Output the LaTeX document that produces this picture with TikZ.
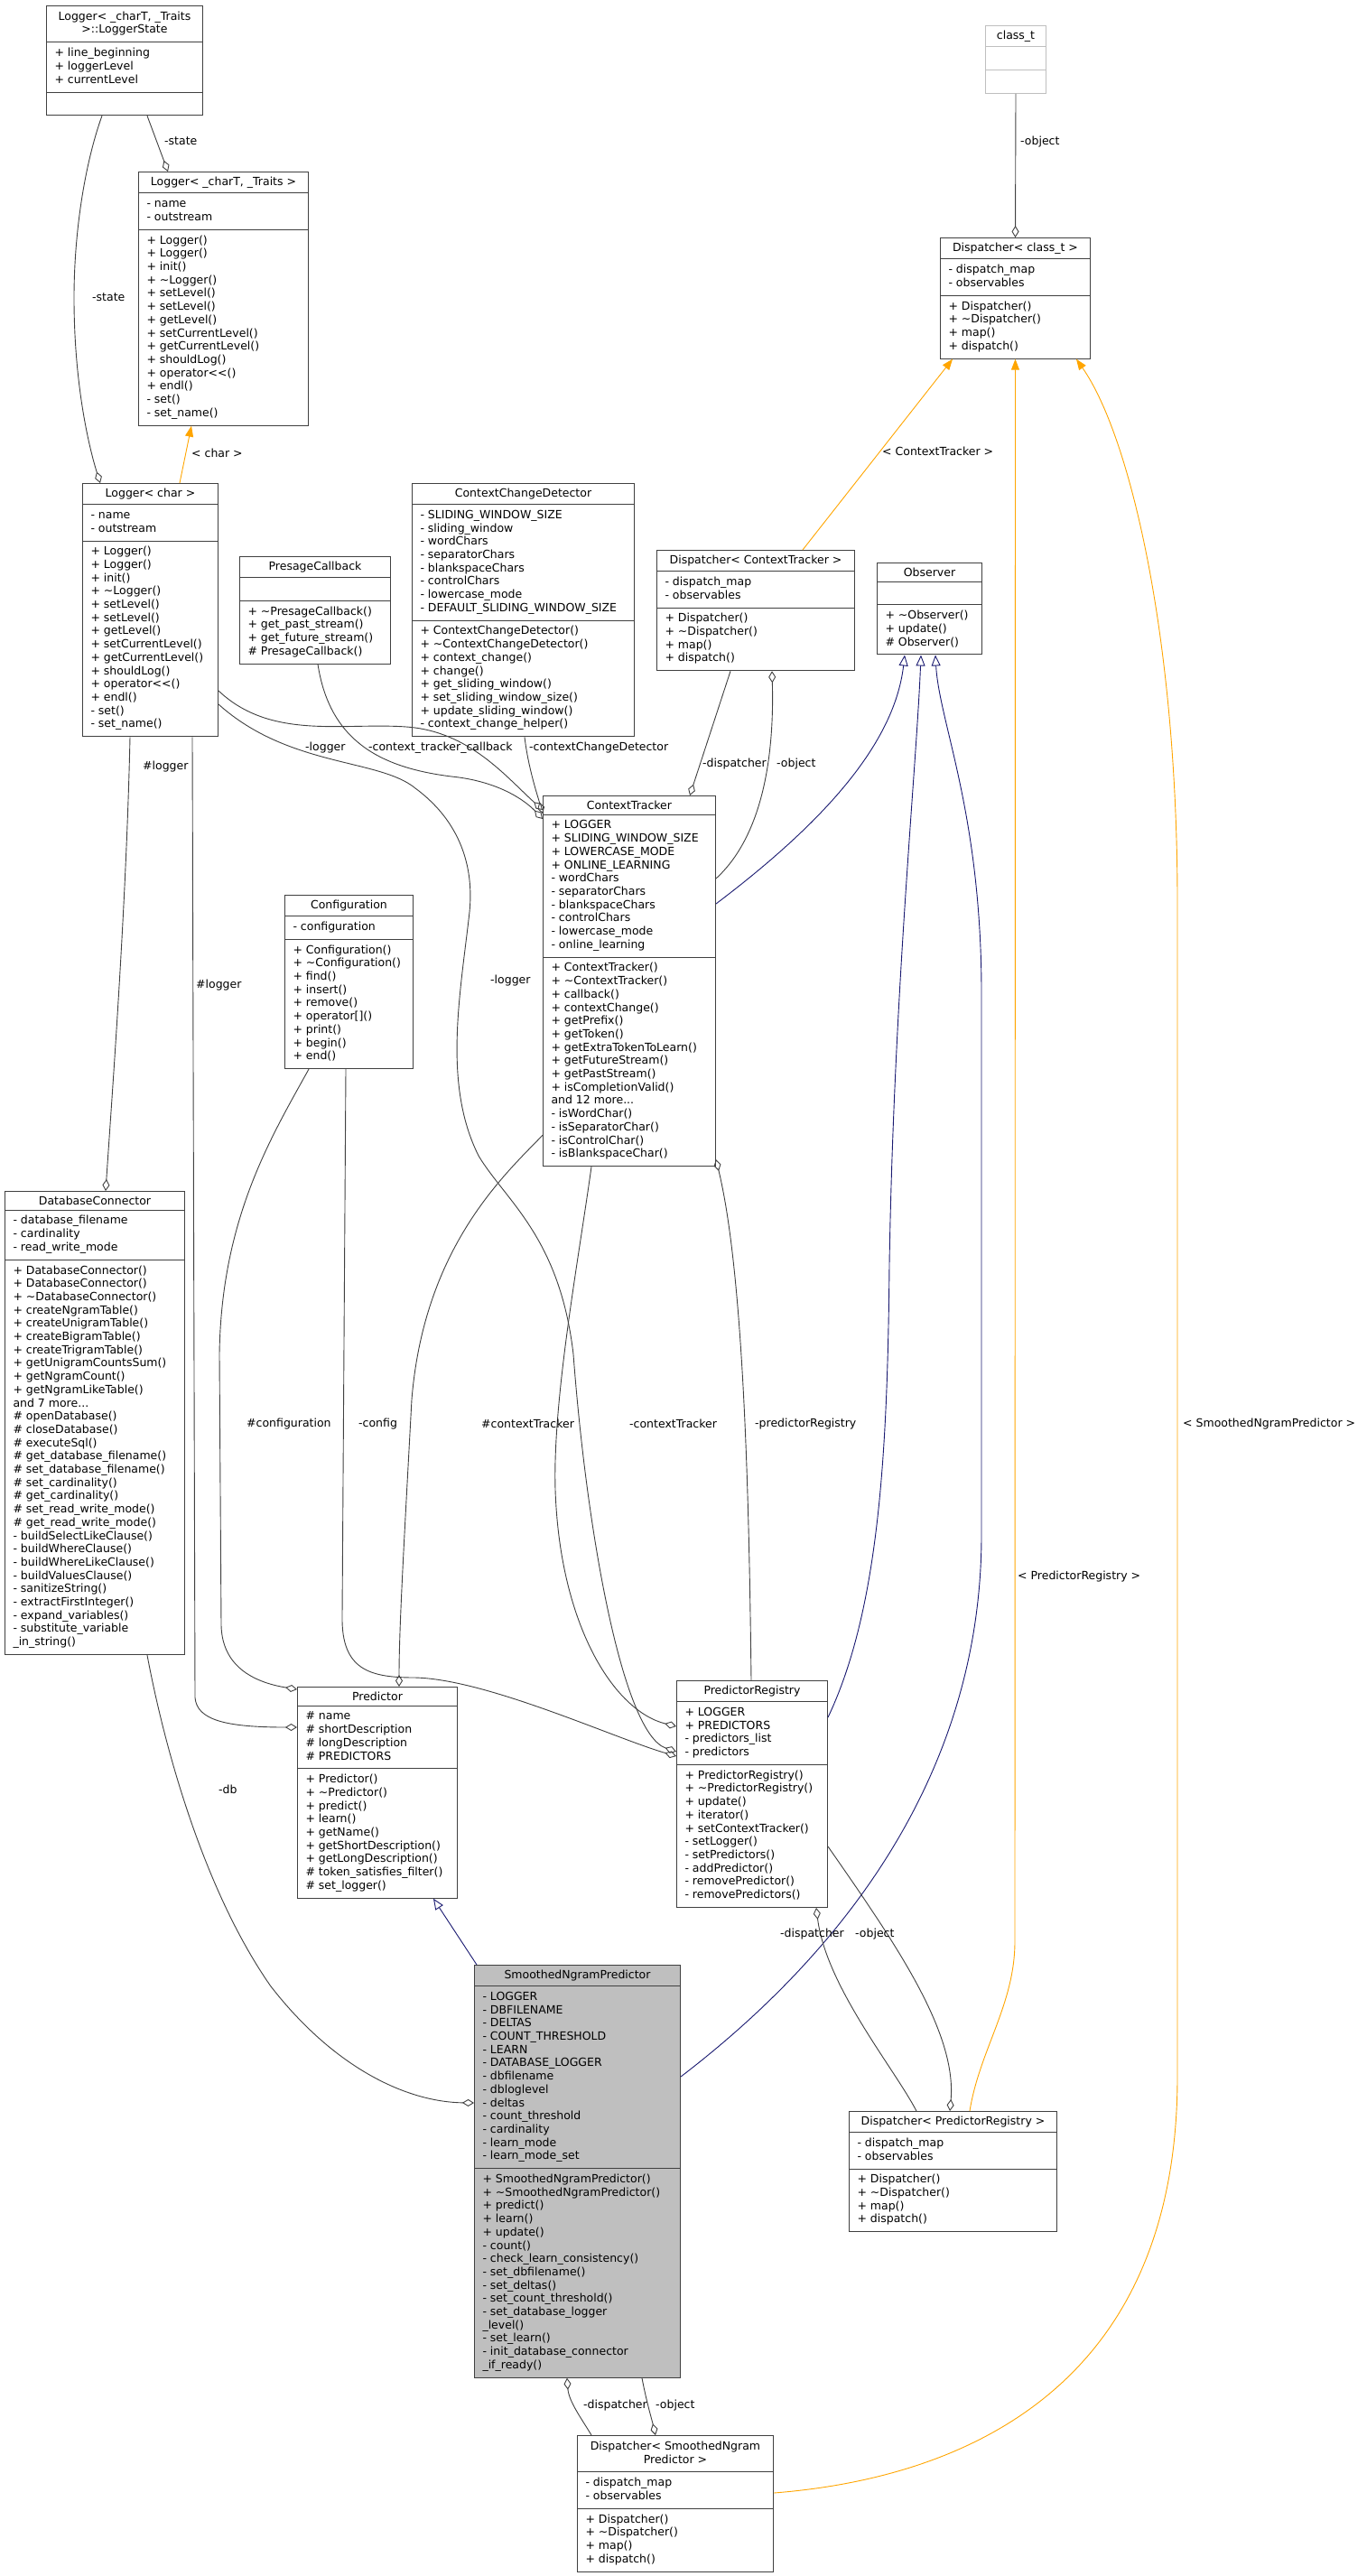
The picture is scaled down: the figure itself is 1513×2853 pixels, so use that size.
\documentclass[tikz,border=0pt]{standalone}
\usepackage{fontspec}
\setmainfont{DejaVu Sans}
\usetikzlibrary{shapes.multipart,arrows.meta}

\definecolor{edgegray}{HTML}{404040}
\definecolor{inhnavy}{HTML}{191970}
\definecolor{tplorange}{HTML}{FFA500}
\definecolor{boxgray}{HTML}{BFBFBF}

\newcommand{\cfont}{\fontsize{12.5}{14.7}\selectfont}
\newcommand{\mlines}[1]{\begin{tabular}{@{}l@{}}#1\end{tabular}}
\newcommand{\mcent}[1]{\begin{tabular}{@{}c@{}}#1\end{tabular}}
\newcommand{\tild}{\textasciitilde}

\tikzset{
  umlclass/.style={rectangle split, rectangle split parts=3,
    rectangle split part align={center,left,left},
    rectangle split empty part height=10.3pt,
    rectangle split empty part depth=4.4pt,
    draw=edgegray, line width=1pt, fill=white, anchor=north west,
    inner xsep=9pt, inner ysep=5pt, font=\cfont},
  lbl/.style={font=\cfont, inner sep=0pt, anchor=west},
  agg/.style={draw=edgegray, line width=0.9pt,
    -{Diamond[open,length=13pt,width=8pt]}},
  inh/.style={draw=inhnavy, line width=0.9pt,
    -{Triangle[open,length=12pt,width=10pt]}},
  tpl/.style={draw=tplorange, line width=0.9pt,
    -{Triangle[length=12pt,width=9pt]}},
}

\begin{document}
\begin{tikzpicture}[x=1pt, y=-1pt]
  \useasboundingbox (0,0) rectangle (1513,2853);

  %% ---- classes ----
  \node[umlclass, minimum width=173pt] (lgs) at (51,6)
    {\mcent{Logger< \_charT, \_Traits\\ >::LoggerState}
     \nodepart{two}\mlines{+ line\_beginning\\+ loggerLevel\\+ currentLevel}
     \nodepart{three}};
  \node[umlclass, minimum width=188pt] (lgt) at (153,190)
    {Logger< \_charT, \_Traits >
     \nodepart{two}\mlines{- name\\- outstream}
     \nodepart{three}\mlines{+ Logger()\\+ Logger()\\+ init()\\+ \tild{}Logger()\\+ setLevel()\\+ setLevel()\\+ getLevel()\\+ setCurrentLevel()\\+ getCurrentLevel()\\+ shouldLog()\\+ operator<{}<()\\+ endl()\\- set()\\- set\_name()}};
  \node[umlclass, minimum width=150pt] (lgc) at (91,535)
    {Logger< char >
     \nodepart{two}\mlines{- name\\- outstream}
     \nodepart{three}\mlines{+ Logger()\\+ Logger()\\+ init()\\+ \tild{}Logger()\\+ setLevel()\\+ setLevel()\\+ getLevel()\\+ setCurrentLevel()\\+ getCurrentLevel()\\+ shouldLog()\\+ operator<{}<()\\+ endl()\\- set()\\- set\_name()}};
  \node[umlclass, draw=boxgray, minimum width=67pt] (cls) at (1091,28)
    {class\_t \nodepart{two} \nodepart{three}};
  \node[umlclass, minimum width=166pt] (dct) at (1041,263)
    {Dispatcher< class\_t >
     \nodepart{two}\mlines{- dispatch\_map\\- observables}
     \nodepart{three}\mlines{+ Dispatcher()\\+ \tild{}Dispatcher()\\+ map()\\+ dispatch()}};
  \node[umlclass, minimum width=167pt] (pcb) at (265,616)
    {PresageCallback
     \nodepart{two}
     \nodepart{three}\mlines{+ \tild{}PresageCallback()\\+ get\_past\_stream()\\+ get\_future\_stream()\\\# PresageCallback()}};
  \node[umlclass, minimum width=246pt] (ccd) at (456,535)
    {ContextChangeDetector
     \nodepart{two}\mlines{- SLIDING\_WINDOW\_SIZE\\- sliding\_window\\- wordChars\\- separatorChars\\- blankspaceChars\\- controlChars\\- lowercase\_mode\\- DEFAULT\_SLIDING\_WINDOW\_SIZE}
     \nodepart{three}\mlines{+ ContextChangeDetector()\\+ \tild{}ContextChangeDetector()\\+ context\_change()\\+ change()\\+ get\_sliding\_window()\\+ set\_sliding\_window\_size()\\+ update\_sliding\_window()\\- context\_change\_helper()}};
  \node[umlclass, minimum width=219pt] (dctr) at (727,609)
    {Dispatcher< ContextTracker >
     \nodepart{two}\mlines{- dispatch\_map\\- observables}
     \nodepart{three}\mlines{+ Dispatcher()\\+ \tild{}Dispatcher()\\+ map()\\+ dispatch()}};
  \node[umlclass, minimum width=116pt] (obs) at (971,623)
    {Observer
     \nodepart{two}
     \nodepart{three}\mlines{+ \tild{}Observer()\\+ update()\\\# Observer()}};
  \node[umlclass, minimum width=191pt] (ct) at (601,881)
    {ContextTracker
     \nodepart{two}\mlines{+ LOGGER\\+ SLIDING\_WINDOW\_SIZE\\+ LOWERCASE\_MODE\\+ ONLINE\_LEARNING\\- wordChars\\- separatorChars\\- blankspaceChars\\- controlChars\\- lowercase\_mode\\- online\_learning}
     \nodepart{three}\mlines{+ ContextTracker()\\+ \tild{}ContextTracker()\\+ callback()\\+ contextChange()\\+ getPrefix()\\+ getToken()\\+ getExtraTokenToLearn()\\+ getFutureStream()\\+ getPastStream()\\+ isCompletionValid()\\and 12 more...\\- isWordChar()\\- isSeparatorChar()\\- isControlChar()\\- isBlankspaceChar()}};
  \node[umlclass, minimum width=142pt] (cfg) at (315,991)
    {Configuration
     \nodepart{two}\mlines{- configuration}
     \nodepart{three}\mlines{+ Configuration()\\+ \tild{}Configuration()\\+ find()\\+ insert()\\+ remove()\\+ operator[]()\\+ print()\\+ begin()\\+ end()}};
  \node[umlclass, minimum width=199pt] (dbc) at (5,1319)
    {DatabaseConnector
     \nodepart{two}\mlines{- database\_filename\\- cardinality\\- read\_write\_mode}
     \nodepart{three}\mlines{+ DatabaseConnector()\\+ DatabaseConnector()\\+ \tild{}DatabaseConnector()\\+ createNgramTable()\\+ createUnigramTable()\\+ createBigramTable()\\+ createTrigramTable()\\+ getUnigramCountsSum()\\+ getNgramCount()\\+ getNgramLikeTable()\\and 7 more...\\\# openDatabase()\\\# closeDatabase()\\\# executeSql()\\\# get\_database\_filename()\\\# set\_database\_filename()\\\# set\_cardinality()\\\# get\_cardinality()\\\# set\_read\_write\_mode()\\\# get\_read\_write\_mode()\\- buildSelectLikeClause()\\- buildWhereClause()\\- buildWhereLikeClause()\\- buildValuesClause()\\- sanitizeString()\\- extractFirstInteger()\\- expand\_variables()\\- substitute\_variable\\\_in\_string()}};
  \node[umlclass, minimum width=177pt] (pred) at (329,1868)
    {Predictor
     \nodepart{two}\mlines{\# name\\\# shortDescription\\\# longDescription\\\# PREDICTORS}
     \nodepart{three}\mlines{+ Predictor()\\+ \tild{}Predictor()\\+ predict()\\+ learn()\\+ getName()\\+ getShortDescription()\\+ getLongDescription()\\\# token\_satisfies\_filter()\\\# set\_logger()}};
  \node[umlclass, minimum width=167pt] (preg) at (749,1861)
    {PredictorRegistry
     \nodepart{two}\mlines{+ LOGGER\\+ PREDICTORS\\- predictors\_list\\- predictors}
     \nodepart{three}\mlines{+ PredictorRegistry()\\+ \tild{}PredictorRegistry()\\+ update()\\+ iterator()\\+ setContextTracker()\\- setLogger()\\- setPredictors()\\- addPredictor()\\- removePredictor()\\- removePredictors()}};
  \node[umlclass, fill=boxgray, minimum width=228pt] (snp) at (525,2176)
    {SmoothedNgramPredictor
     \nodepart{two}\mlines{- LOGGER\\- DBFILENAME\\- DELTAS\\- COUNT\_THRESHOLD\\- LEARN\\- DATABASE\_LOGGER\\- dbfilename\\- dbloglevel\\- deltas\\- count\_threshold\\- cardinality\\- learn\_mode\\- learn\_mode\_set}
     \nodepart{three}\mlines{+ SmoothedNgramPredictor()\\+ \tild{}SmoothedNgramPredictor()\\+ predict()\\+ learn()\\+ update()\\- count()\\- check\_learn\_consistency()\\- set\_dbfilename()\\- set\_deltas()\\- set\_count\_threshold()\\- set\_database\_logger\\\_level()\\- set\_learn()\\- init\_database\_connector\\\_if\_ready()}};
  \node[umlclass, minimum width=230pt] (dpr) at (940,2338)
    {Dispatcher< PredictorRegistry >
     \nodepart{two}\mlines{- dispatch\_map\\- observables}
     \nodepart{three}\mlines{+ Dispatcher()\\+ \tild{}Dispatcher()\\+ map()\\+ dispatch()}};
  \node[umlclass, minimum width=217pt] (dsnp) at (639,2697)
    {\mcent{Dispatcher< SmoothedNgram\\Predictor >}
     \nodepart{two}\mlines{- dispatch\_map\\- observables}
     \nodepart{three}\mlines{+ Dispatcher()\\+ \tild{}Dispatcher()\\+ map()\\+ dispatch()}};

  %% ---- template instances ----
  \draw[tpl] ([xshift=108pt]lgc.north west) -- ([xshift=59pt]lgt.south west);
  \draw[tpl] ([xshift=162pt]dctr.north west) -- ([xshift=14pt]dct.south west);
  \draw[tpl] ([xshift=134pt]dpr.north west) .. controls (1085,2270) and (1124,2220) .. (1124,2150) -- (dct.south);
  \draw[tpl] ([yshift=-64pt]dsnp.north east) .. controls (1060,2745) and (1304,2650) .. (1304,2300)
    -- (1304,1000) .. controls (1304,700) and (1250,480) .. ([xshift=-16pt]dct.south east);

  %% ---- inheritance ----
  \draw[inh] ([yshift=-120pt]ct.north east) .. controls (900,920) and (990,830) .. ([xshift=31pt]obs.south west);
  \draw[inh] ([yshift=-41pt]preg.north east) .. controls (975,1780) and (983,1600) .. (985,1400)
    .. controls (990,1100) and (1015,850) .. ([xshift=49pt]obs.south west);
  \draw[inh] ([yshift=-124pt]snp.north east) .. controls (950,2150) and (1087,1950) .. (1087,1700)
    -- (1087,1100) .. controls (1087,900) and (1040,800) .. ([xshift=65pt]obs.south west);
  \draw[inh] ([xshift=3pt]snp.north west) -- ([xshift=151pt]pred.south west);

  %% ---- members ----
  \draw[agg] ([xshift=112pt]lgs.south west) -- ([xshift=33pt]lgt.north west);
  \draw[agg] ([xshift=62pt]lgs.south west) .. controls (96,175) and (82,250) .. (82,330)
    .. controls (82,430) and (100,500) .. ([xshift=20pt]lgc.north west);
  \draw[agg] (cls.south) -- (dct.north);
  \draw[agg] ([yshift=-230pt]lgc.north east) .. controls (300,820) and (380,800) .. (450,805)
    .. controls (520,810) and (560,860) .. ([yshift=-16pt]ct.north west);
  \draw[agg] ([xshift=87pt]pcb.south west) .. controls (365,820) and (420,850) .. (500,860)
    .. controls (550,865) and (580,885) .. ([yshift=-26pt]ct.north west);
  \draw[agg] ([xshift=125pt]ccd.south west) .. controls (585,850) and (595,880) .. ([yshift=-20pt]ct.north west);
  \draw[agg] ([xshift=82pt]dctr.south west) -- ([xshift=163pt]ct.north west);
  \draw[agg] ([yshift=-92pt]ct.north east) .. controls (840,930) and (858,850) .. ([xshift=128pt]dctr.south west);
  \draw[agg] ([xshift=53pt]lgc.south west) .. controls (140,1000) and (125,1200) .. ([xshift=112pt]dbc.north west);
  \draw[agg] ([xshift=122pt]lgc.south west) -- (216,1880) .. controls (218,1905) and (250,1913) .. ([yshift=-45pt]pred.north west);
  \draw[agg] ([xshift=27pt]cfg.south west) .. controls (300,1260) and (245,1350) .. (243,1500)
    -- (245,1800) .. controls (246,1845) and (280,1863) .. ([yshift=-3pt]pred.north west);
  \draw[agg] ([xshift=68pt]cfg.south west) -- (379,1790) .. controls (378,1850) and (410,1858) .. (460,1858)
    .. controls (540,1860) and (680,1925) .. ([yshift=-84pt]preg.north west);
  \draw[agg] ([yshift=35pt]ct.south west) .. controls (560,1300) and (470,1380) .. (456,1550)
    .. controls (448,1700) and (442,1800) .. ([xshift=113pt]pred.north west);
  \draw[agg] ([xshift=54pt]ct.south west) .. controls (640,1400) and (612,1550) .. (615,1650)
    .. controls (620,1800) and (680,1895) .. ([yshift=-51pt]preg.north west);
  \draw[agg] ([yshift=-245pt]lgc.north east) .. controls (320,850) and (420,840) .. (460,873)
    .. controls (510,910) and (525,960) .. (520,1010) .. controls (510,1100) and (490,1200) .. (530,1280)
    .. controls (560,1330) and (620,1370) .. (635,1500) .. controls (650,1700) and (690,1920) .. ([yshift=-79pt]preg.north west);
  \draw[agg] ([xshift=83pt]preg.north west) .. controls (830,1700) and (826,1420) .. ([yshift=8pt]ct.south east);
  \draw[agg] ([xshift=158pt]dbc.south west) .. controls (185,1950) and (230,2100) .. (300,2200)
    .. controls (370,2290) and (450,2328) .. ([yshift=-153pt]snp.north west);
  \draw[agg] ([xshift=75pt]dpr.north west) .. controls (990,2290) and (915,2200) .. ([xshift=155pt]preg.south west);
  \draw[agg] ([yshift=-184pt]preg.north east) .. controls (990,2150) and (1060,2250) .. ([xshift=112pt]dpr.north west);
  \draw[agg] ([xshift=16pt]dsnp.north west) .. controls (645,2680) and (630,2660) .. ([xshift=103pt]snp.south west);
  \draw[agg] ([xshift=186pt]snp.south west) .. controls (716,2660) and (722,2680) .. ([xshift=87pt]dsnp.north west);

  %% ---- labels ----
  \node[lbl] (lstatea) at (182,156) {-state};
  \node[lbl] (lstateb) at (102,329) {-state};
  \node[lbl] (lchar) at (212,502) {< char >};
  \node[lbl] (lobjcls) at (1130,157) {-object};
  \node[lbl] (lctinst) at (977,500) {< ContextTracker >};
  \node[lbl] (lloggera) at (338,828) {-logger};
  \node[lbl] (lcallback) at (408,828) {-context\_tracker\_callback};
  \node[lbl] (lccd) at (586,828) {-contextChangeDetector};
  \node[lbl] (ldispct) at (778,846) {-dispatcher};
  \node[lbl] (lobjct) at (860,846) {-object};
  \node[lbl] (lloggerdb) at (158,849) {\#logger};
  \node[lbl] (lloggerpred) at (217,1091) {\#logger};
  \node[lbl] (lloggerb) at (543,1086) {-logger};
  \node[lbl] (lconfpred) at (273,1577) {\#configuration};
  \node[lbl] (lconfreg) at (397,1577) {-config};
  \node[lbl] (lctpred) at (533,1577) {\#contextTracker};
  \node[lbl] (lctreg) at (697,1577) {-contextTracker};
  \node[lbl] (lregct) at (836,1577) {-predictorRegistry};
  \node[lbl] (lsnpinst) at (1310,1577) {< SmoothedNgramPredictor >};
  \node[lbl] (lreginst) at (1127,1746) {< PredictorRegistry >};
  \node[lbl] (ldb) at (242,1982) {-db};
  \node[lbl] (ldispreg) at (864,2142) {-dispatcher};
  \node[lbl] (lobjreg) at (947,2142) {-object};
  \node[lbl] (ldispsnp) at (646,2664) {-dispatcher};
  \node[lbl] (lobjsnp) at (726,2664) {-object};
\end{tikzpicture}
\end{document}
